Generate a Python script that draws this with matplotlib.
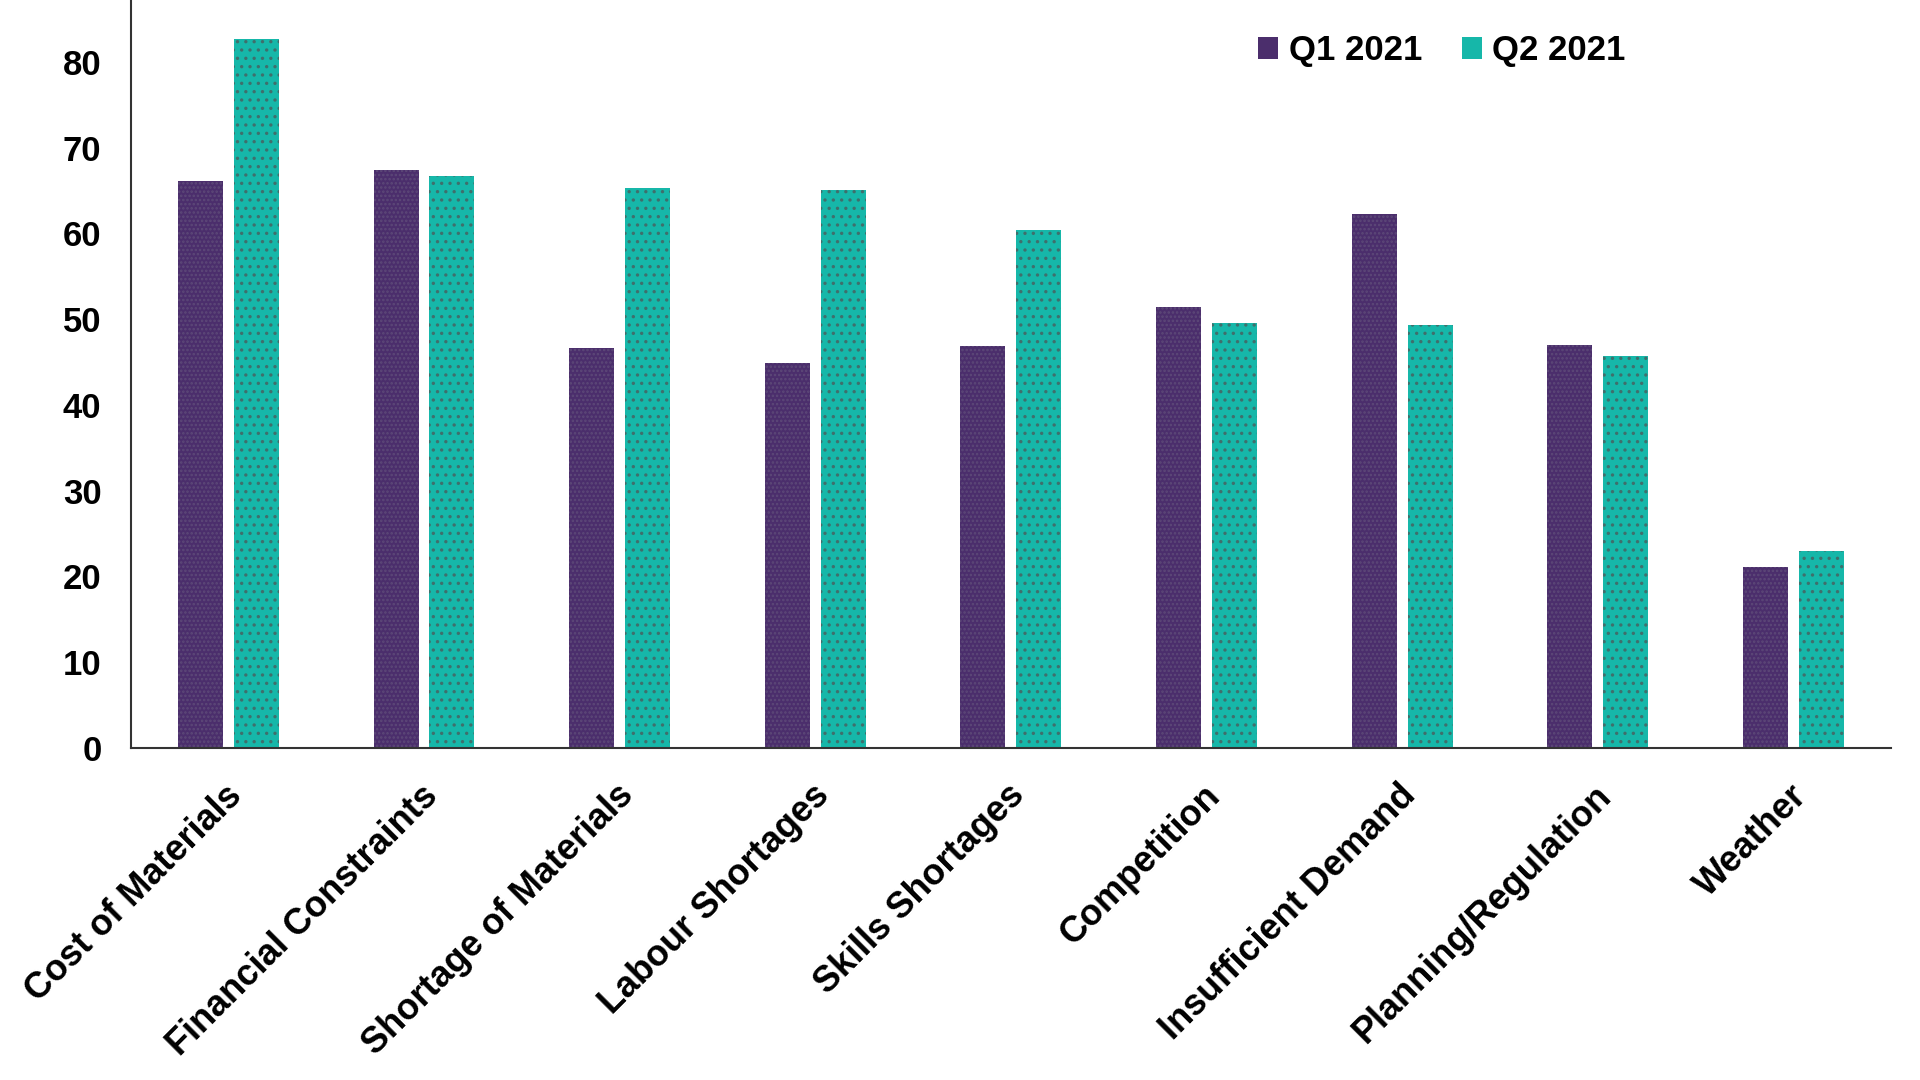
import matplotlib.pyplot as plt
import numpy as np
from matplotlib.patches import Patch

categories = ["Cost of Materials", "Financial Constraints", "Shortage of Materials",
              "Labour Shortages", "Skills Shortages", "Competition",
              "Insufficient Demand", "Planning/Regulation", "Weather"]
q1_2021 = [66.1, 67.4, 46.6, 44.9, 46.9, 51.4, 62.3, 47.0, 21.1]
q2_2021 = [82.7, 66.7, 65.3, 65.1, 60.4, 49.6, 49.3, 45.7, 23.0]
series_names = ["Q1 2021", "Q2 2021"]
yticks = [0, 10, 20, 30, 40, 50, 60, 70, 80]

purple = "#4b2e6c"
teal = "#16b7a9"

plt.rcParams['font.family'] = ['Liberation Sans', 'DejaVu Sans']
plt.rcParams['font.weight'] = 'bold'
plt.rcParams['hatch.linewidth'] = 1.2

fig = plt.figure(figsize=(19.2, 10.8), dpi=100)
ax = fig.add_axes([0.068, 0.3074, 0.917, 0.6926])

x = np.arange(len(categories))
w = 0.23
off = 0.143

ax.bar(x - off, q1_2021, w, color=purple, linewidth=0)
ax.bar(x + off, q2_2021, w, color=teal, linewidth=0)
# dotted texture on the bars
ax.bar(x - off, q1_2021, w, fill=False, hatch='....', edgecolor='#5d4978', linewidth=0)
ax.bar(x + off, q2_2021, w, fill=False, hatch='..', edgecolor='#3f6f6c', linewidth=0)

ax.set_xlim(-0.5, len(categories) - 0.5)
ax.set_ylim(0, 87.2)
ax.set_yticks(yticks)
ax.set_yticklabels([str(v) for v in yticks], fontsize=25, fontweight='bold')
ax.tick_params(axis='y', length=0, pad=21)
ax.tick_params(axis='x', length=0, pad=0)
ax.set_xticks(x)
ax.set_xticklabels([])

for xi, lab in zip(x, categories):
    ax.annotate(lab, xy=(xi, 0), xycoords='data',
                xytext=(-4, -30), textcoords='offset pixels',
                rotation=45, rotation_mode='anchor', ha='right', va='top',
                fontsize=26, fontweight='bold', color='black')

for s in ['top', 'right']:
    ax.spines[s].set_visible(False)
for s in ['left', 'bottom']:
    ax.spines[s].set_color('#333333')
    ax.spines[s].set_linewidth(1.5)

handles = [Patch(facecolor=purple, linewidth=0), Patch(facecolor=teal, linewidth=0)]
fig.legend(handles, series_names, loc='upper left', bbox_to_anchor=(1258 / 1920, 1 - 34 / 1080),
           ncol=2, frameon=False, prop={'weight': 'bold', 'size': 25},
           handlelength=0.58, handleheight=0.58, handletextpad=0.3,
           columnspacing=1.15, borderpad=0, borderaxespad=0)

fig.savefig("out.png", dpi=100, facecolor='white')
